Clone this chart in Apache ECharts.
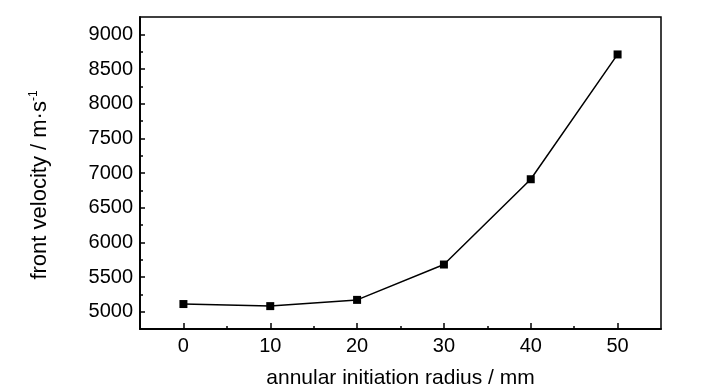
<!DOCTYPE html>
<html>
<head>
<meta charset="utf-8">
<script src="https://cdn.jsdelivr.net/npm/echarts@6/dist/echarts.min.js"></script>
<style>html,body{margin:0;padding:0;background:#fff;}#c{width:728px;height:390px;}</style>
</head>
<body>
<div id="c"></div>
<script>
var radius = [0, 10, 20, 30, 40, 50];
var velocity = [5110, 5080, 5170, 5680, 6910, 8710];
var xTickLabels = [0, 10, 20, 30, 40, 50];
var xMinorTicks = [5, 15, 25, 35, 45];
var yTickLabels = [5000, 5500, 6000, 6500, 7000, 7500, 8000, 8500, 9000];
var yMinorTicks = [5250, 5750, 6250, 6750, 7250, 7750, 8250, 8750];

var FONT = '"Liberation Sans", Arial, sans-serif';
var FS = 20;
var chart = echarts.init(document.getElementById('c'));
var axisCommon = {
  axisLine: { show: true, onZero: false, lineStyle: { color: '#000', width: 1.5 } },
  splitLine: { show: false }
};
function plain(v) { return String(v); }
chart.setOption({
  animation: false,
  grid: { left: 140, right: 67, top: 17, bottom: 61, show: true, borderColor: '#000', borderWidth: 1.5, backgroundColor: 'transparent', containLabel: false, outerBoundsMode: 'none' },
  xAxis: [
    Object.assign({}, axisCommon, {
      type: 'value', min: -5, max: 55,
      name: 'annular initiation radius / mm', nameLocation: 'middle', nameGap: 39,
      nameTextStyle: { fontFamily: FONT, fontSize: 21, color: '#000' },
      axisTick: { show: true, inside: true, length: 6, customValues: xTickLabels, lineStyle: { color: '#000', width: 1.5 } },
      axisLabel: { show: true, customValues: xTickLabels, formatter: plain, fontFamily: FONT, fontSize: FS, color: '#000', margin: 7 }
    }),
    Object.assign({}, axisCommon, {
      type: 'value', min: -5, max: 55, position: 'bottom',
      axisTick: { show: true, inside: true, length: 3, customValues: xMinorTicks, lineStyle: { color: '#000', width: 1.5 } },
      axisLabel: { show: false }
    })
  ],
  yAxis: [
    Object.assign({}, axisCommon, {
      type: 'value', min: 4750, max: 9250,
      name: 'front velocity / m·s{sup|-1}', nameLocation: 'middle', nameGap: 88,
      nameTextStyle: { fontFamily: FONT, fontSize: 22, color: '#000', padding: [0, 24, 0, 0],
        rich: { sup: { fontFamily: FONT, fontSize: 12, color: '#000', padding: [0, 0, 12, 0] } } },
      axisTick: { show: true, inside: true, length: 5, customValues: yTickLabels, lineStyle: { color: '#000', width: 1.5 } },
      axisLabel: { show: true, customValues: yTickLabels, formatter: plain, fontFamily: FONT, fontSize: FS, color: '#000', margin: 7 }
    }),
    Object.assign({}, axisCommon, {
      type: 'value', min: 4750, max: 9250, position: 'left',
      axisTick: { show: true, inside: true, length: 3, customValues: yMinorTicks, lineStyle: { color: '#000', width: 1.5 } },
      axisLabel: { show: false }
    })
  ],
  series: [{
    type: 'line',
    data: radius.map(function (r, i) { return [r, velocity[i]]; }),
    symbol: 'rect', symbolSize: 8,
    lineStyle: { color: '#000', width: 1.5 },
    itemStyle: { color: '#000' }
  }]
});
</script>
</body>
</html>
